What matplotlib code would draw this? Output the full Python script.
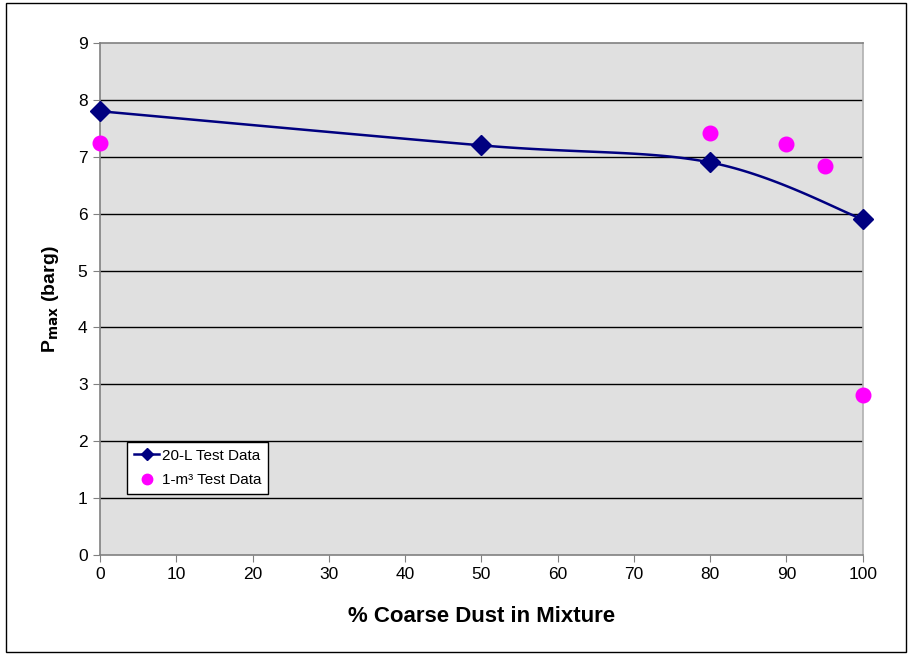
import numpy as np
import matplotlib.pyplot as plt
from matplotlib.patches import Rectangle

plt.rcParams['font.family'] = ['Liberation Sans', 'DejaVu Sans']

# Datos 20-L
x_20L = [0, 50, 80, 100]
y_20L = [7.8, 7.2, 6.9, 5.9]

# Datos 1-m3
x_1m3 = [0, 80, 90, 95, 100]
y_1m3 = [7.24, 7.42, 7.23, 6.83, 2.82]


def suavizado(x, y, n=40):
    # curva suavizada tipo Excel (Bezier con puntos de control de Catmull-Rom)
    p = np.column_stack([x, y]).astype(float)
    pts = []
    for i in range(len(p) - 1):
        p0 = p[i - 1] if i > 0 else p[i]
        p1 = p[i]
        p2 = p[i + 1]
        p3 = p[i + 2] if i + 2 < len(p) else p[i + 1]
        c1 = p1 + (p2 - p0) / 6
        c2 = p2 - (p3 - p1) / 6
        t = np.linspace(0, 1, n)[:, None]
        b = (1 - t) ** 3 * p1 + 3 * (1 - t) ** 2 * t * c1 + 3 * (1 - t) * t ** 2 * c2 + t ** 3 * p2
        pts.append(b)
    b = np.vstack(pts)
    return b[:, 0], b[:, 1]


fig = plt.figure(figsize=(9.11, 6.55), dpi=100)
ax = fig.add_axes([0.1098, 0.1527, 0.8372, 0.7817])
ax.set_facecolor('#e0e0e0')

fig.patches.append(Rectangle((0.007, 0.005), 0.988, 0.99, transform=fig.transFigure,
                             fill=False, edgecolor='black', linewidth=1))

for v in range(1, 9):
    ax.axhline(v, color='black', linewidth=1, zorder=1)

xs, ys = suavizado(x_20L, y_20L)
ax.plot(xs, ys, color='#000080', linewidth=1.8, zorder=3)
ax.plot(x_20L, y_20L, 'D', color='#000080', markersize=10.5, zorder=4, clip_on=False)
ax.plot([], [], '-D', color='#000080', linewidth=1.8, markersize=6, label='20-L Test Data')
ax.plot(x_1m3, y_1m3, 'o', color='#ff00ff', markersize=10.5, zorder=4, linestyle='none', clip_on=False)
ax.plot([], [], 'o', color='#ff00ff', markersize=7.5, linestyle='none', label='1-m³ Test Data')

ax.set_xlim(0, 100)
ax.set_ylim(0, 9)
ax.set_xticks(range(0, 101, 10))
ax.set_yticks(range(0, 10))
ax.tick_params(direction='out', length=5, color='#808080', labelsize=12.5, pad=4)
for s in ax.spines.values():
    s.set_color('#808080')
    s.set_linewidth(1.2)
ax.spines['right'].set_color('#b0b0b0')

ax.set_xlabel('% Coarse Dust in Mixture', fontsize=16, fontweight='bold', labelpad=17)
ax.set_ylabel(r'P$_{\mathbf{max}}$ (barg)', fontsize=14, fontweight='bold', labelpad=12)

leg = ax.legend(loc='lower left', bbox_to_anchor=(0.03, 0.11), fontsize=11, frameon=True,
                fancybox=False, edgecolor='black', framealpha=1, handlelength=1.6,
                borderpad=0.45, labelspacing=0.7, handletextpad=0.2, borderaxespad=0.3)
leg.get_frame().set_linewidth(1)

plt.savefig('out.png', dpi=100)
